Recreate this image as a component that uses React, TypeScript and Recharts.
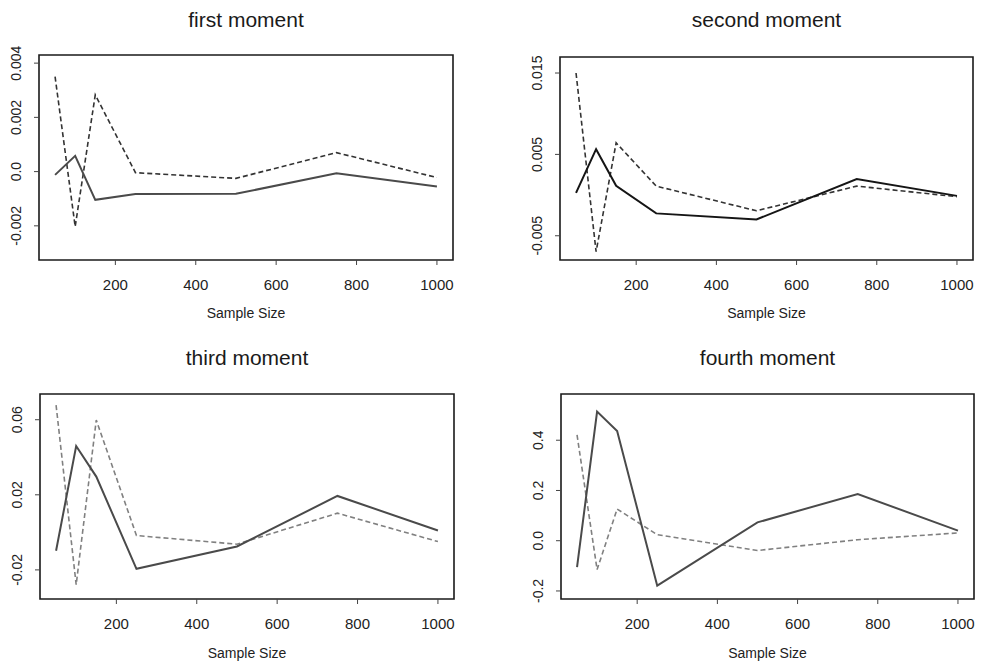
import React from "react";
import { LineChart, Line, XAxis, YAxis, ReferenceArea } from "recharts";

const sampleSizes = [50, 100, 150, 250, 500, 750, 1000];
const xTicks = [200, 400, 600, 800, 1000];

// solid line = estimator A, dashed line = estimator B
const firstA = [-0.00012, 0.00058, -0.00104, -0.00083, -0.00082, -0.00006, -0.00055];
const firstB = [0.0035, -0.00203, 0.00283, -0.00004, -0.00025, 0.0007, -0.00022];
const secondA = [0.00028, 0.00564, 0.00114, -0.00225, -0.003, 0.00196, -0.0001];
const secondB = [0.015, -0.00696, 0.00642, 0.0011, -0.00193, 0.0011, -0.0002];
const thirdA = [-0.0098, 0.046, 0.0297, -0.0194, -0.0075, 0.0194, 0.001];
const thirdB = [0.0678, -0.0279, 0.0598, -0.0017, -0.0063, 0.0102, -0.0049];
const fourthA = [-0.105, 0.514, 0.437, -0.179, 0.073, 0.186, 0.04];
const fourthB = [0.421, -0.115, 0.126, 0.024, -0.039, 0.004, 0.031];

const firstTicks = [-0.002, 0, 0.002, 0.004];
const firstLabels = ["-0.002", "0.0", "0.002", "0.004"];
const secondTicks = [-0.005, 0.005, 0.015];
const secondLabels = ["-0.005", "0.005", "0.015"];
const thirdTicks = [-0.02, 0.02, 0.06];
const thirdLabels = ["-0.02", "0.02", "0.06"];
const fourthTicks = [-0.2, 0, 0.2, 0.4];
const fourthLabels = ["-0.2", "0.0", "0.2", "0.4"];

const FONT = "'Liberation Sans', Arial, Helvetica, sans-serif";

type PanelProps = {
  title: string;
  a: number[];
  b: number[];
  yDomain: [number, number];
  yTicks: number[];
  yLabels: string[];
  left: number;
  top: number;
  width: number;
  height: number;
  plotLeft: number;
  plotRight: number;
  plotTop: number;
  plotBottom: number;
  titleTop: number;
  labelOffset: number;
  solidColor: string;
  dashColor: string;
};

function Panel(p: PanelProps) {
  const data = sampleSizes.map((n, i) => ({ n, a: p.a[i], b: p.b[i] }));
  const label = (v: number) => {
    const i = p.yTicks.indexOf(v);
    return i >= 0 ? p.yLabels[i] : String(v);
  };
  const YTick = (props: any) => {
    const { y, payload } = props;
    const cx = p.plotLeft - 23;
    return (
      <text
        x={cx}
        y={y}
        transform={`rotate(-90, ${cx}, ${y})`}
        textAnchor="middle"
        dominantBaseline="central"
        fontSize={14}
        fontFamily={FONT}
        fill="#222"
      >
        {label(payload.value)}
      </text>
    );
  };
  const centre = (p.plotLeft + p.plotRight) / 2;
  return (
    <div style={{ position: "absolute", left: p.left, top: p.top, width: p.width, height: p.height }}>
      <div
        style={{
          position: "absolute",
          left: centre - 150,
          width: 300,
          top: p.titleTop,
          textAlign: "center",
          fontFamily: FONT,
          fontSize: 21,
          lineHeight: "21px",
          color: "#1a1a1a",
        }}
      >
        {p.title}
      </div>
      <LineChart
        width={p.width}
        height={p.height}
        data={data}
        margin={{ top: p.plotTop, right: p.width - p.plotRight, bottom: 0, left: 0 }}
      >
        <XAxis
          dataKey="n"
          type="number"
          domain={[10, 1040]}
          ticks={xTicks}
          allowDataOverflow
          height={p.height - p.plotBottom}
          axisLine={false}
          tickLine={{ stroke: "#444" }}
          tickSize={5}
          tickMargin={14}
          tick={{ fontSize: 15, fontFamily: FONT, fill: "#222" }}
          label={{
            value: "Sample Size",
            position: "insideBottom",
            offset: p.labelOffset,
            fontSize: 14,
            fontFamily: FONT,
            fill: "#222",
          }}
        />
        <YAxis
          type="number"
          domain={p.yDomain}
          ticks={p.yTicks}
          allowDataOverflow
          width={p.plotLeft}
          axisLine={false}
          tickLine={{ stroke: "#444" }}
          tickSize={5}
          tick={<YTick />}
        />
        <Line
          type="linear"
          dataKey="b"
          stroke={p.dashColor}
          strokeWidth={1.6}
          strokeDasharray="5 3"
          dot={false}
          isAnimationActive={false}
        />
        <Line
          type="linear"
          dataKey="a"
          stroke={p.solidColor}
          strokeWidth={2}
          dot={false}
          isAnimationActive={false}
        />
        <ReferenceArea
          x1={10}
          x2={1040}
          y1={p.yDomain[0]}
          y2={p.yDomain[1]}
          fill="none"
          stroke="#1a1a1a"
          strokeWidth={1.6}
          ifOverflow="visible"
        />
      </LineChart>
    </div>
  );
}

export default function App() {
  return (
    <div
      style={{
        position: "absolute",
        left: 0,
        top: 0,
        width: 983,
        height: 663,
        background: "#fff",
        overflow: "hidden",
      }}
    >
      <Panel
        title="first moment"
        a={firstA}
        b={firstB}
        yDomain={[-0.00326, 0.0043]}
        yTicks={firstTicks}
        yLabels={firstLabels}
        left={0}
        top={0}
        width={490}
        height={330}
        plotLeft={39}
        plotRight={453}
        plotTop={55}
        plotBottom={260}
        titleTop={9}
        labelOffset={12}
        solidColor="#4a4a4a"
        dashColor="#333"
      />
      <Panel
        title="second moment"
        a={secondA}
        b={secondB}
        yDomain={[-0.00798, 0.01697]}
        yTicks={secondTicks}
        yLabels={secondLabels}
        left={490}
        top={0}
        width={493}
        height={330}
        plotLeft={70}
        plotRight={483}
        plotTop={57}
        plotBottom={260}
        titleTop={9}
        labelOffset={12}
        solidColor="#151515"
        dashColor="#333"
      />
      <Panel
        title="third moment"
        a={thirdA}
        b={thirdB}
        yDomain={[-0.0355, 0.0737]}
        yTicks={thirdTicks}
        yLabels={thirdLabels}
        left={0}
        top={330}
        width={490}
        height={333}
        plotLeft={40}
        plotRight={454}
        plotTop={64}
        plotBottom={269}
        titleTop={17}
        labelOffset={5}
        solidColor="#4a4a4a"
        dashColor="#808080"
      />
      <Panel
        title="fourth moment"
        a={fourthA}
        b={fourthB}
        yDomain={[-0.232, 0.584]}
        yTicks={fourthTicks}
        yLabels={fourthLabels}
        left={490}
        top={330}
        width={493}
        height={333}
        plotLeft={71}
        plotRight={484}
        plotTop={64}
        plotBottom={269}
        titleTop={17}
        labelOffset={5}
        solidColor="#4a4a4a"
        dashColor="#808080"
      />
    </div>
  );
}
